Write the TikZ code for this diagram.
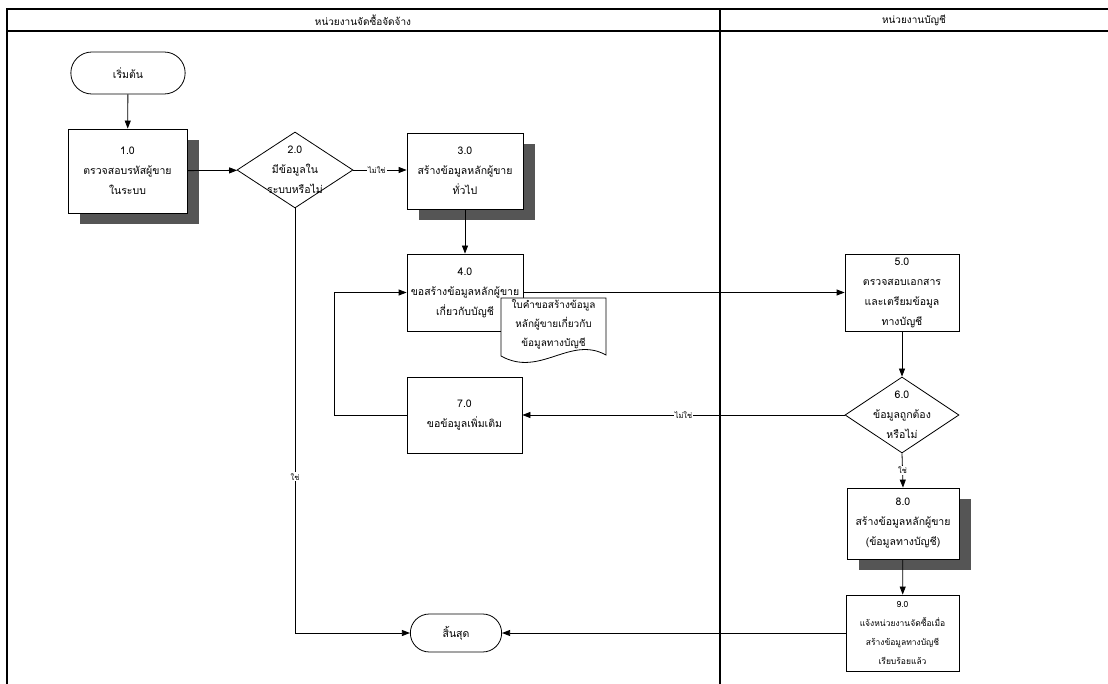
\documentclass[tikz,border=0pt]{standalone}
\usepackage{fontspec}
\newfontfamily\thai[Script=Thai]{Loma}
\usetikzlibrary{arrows.meta,shapes.geometric,shapes.misc,shadows}
\definecolor{shade}{RGB}{85,85,85}
\tikzset{
  x=1pt, y=-1pt,
  txt/.style={font=\thai\fontsize{10.5}{20}\selectfont, align=center},
  proc/.style={draw, fill=white, line width=0.8pt, inner sep=0pt, txt},
  shd/.style={drop shadow={shadow xshift=12pt, shadow yshift=-11pt, fill=shade, opacity=1}},
  dec/.style={diamond, draw, fill=white, line width=0.8pt, inner sep=0pt, minimum width=116pt, minimum height=76pt},
  term/.style={rounded rectangle, draw, fill=white, line width=0.8pt, txt},
  arr/.style={line width=0.8pt, -{Triangle[length=8pt,width=6pt]}},
  conn/.style={line width=0.8pt},
  lbl/.style={font=\thai\fontsize{7.5}{8}\selectfont, fill=white, inner sep=1pt},
  frame/.style={line width=1.4pt},
}
\begin{document}
\begin{tikzpicture}
\useasboundingbox (0,0) rectangle (1108,684);
% swimlane frame
\draw[frame] (7,684) -- (7,9) -- (1108,9);
\draw[frame] (7,31) -- (1108,31);
\draw[frame] (720,9) -- (720,684);
\node[txt, font=\thai\fontsize{10}{12}\selectfont] (lane1) at (363,20) {หน่วยงานจัดซื้อจัดจ้าง};
\node[txt, font=\thai\fontsize{10}{12}\selectfont] (lane2) at (914,20) {หน่วยงานบัญชี};

% nodes
\node[term, minimum width=121pt, minimum height=42pt] (start) at (128,73) {เริ่มต้น};
\node[proc, shd, minimum width=119pt, minimum height=84pt] (n1) at (127.5,171) {1.0\\ตรวจสอบรหัสผู้ขาย\\ในระบบ};
\node[dec, label={[txt]center:{2.0\\มีข้อมูลใน\\ระบบหรือไม่}}] (n2) at (295,170) {};
\node[proc, shd, minimum width=116pt, minimum height=76pt] (n3) at (465,171) {3.0\\สร้างข้อมูลหลักผู้ขาย\\ทั่วไป};
\node[proc, minimum width=116pt, minimum height=77pt] (n4) at (465,292.5) {4.0\\ขอสร้างข้อมูลหลักผู้ขาย\\เกี่ยวกับบัญชี};
\filldraw[fill=white, line width=0.8pt] (501,298) -- (606,298) -- (606,355)
   .. controls (570,335) and (540,378) .. (501,356) -- cycle;
\node[txt, font=\thai\fontsize{10}{19}\selectfont] (doc) at (553.5,324) {ใบคำขอสร้างข้อมูล\\หลักผู้ขายเกี่ยวกับ\\ข้อมูลทางบัญชี};
\node[proc, minimum width=114pt, minimum height=77pt] (n5) at (902,292.5) {5.0\\ตรวจสอบเอกสาร\\และเตรียมข้อมูล\\ทางบัญชี};
\node[dec, minimum width=114pt, label={[txt]center:{6.0\\ข้อมูลถูกต้อง\\หรือไม่}}] (n6) at (902,415) {};
\node[proc, minimum width=115pt, minimum height=76pt] (n7) at (464.5,415) {7.0\\ขอข้อมูลเพิ่มเติม};
\node[proc, shd, minimum width=112pt, minimum height=71pt] (n8) at (903,523.5) {8.0\\สร้างข้อมูลหลักผู้ขาย\\(ข้อมูลทางบัญชี)};
\node[proc, minimum width=113pt, minimum height=76pt, font=\thai\fontsize{8.5}{19}\selectfont] (n9) at (902.5,633) {9.0\\แจ้งหน่วยงานจัดซื้อเมื่อ\\สร้างข้อมูลทางบัญชี\\เรียบร้อยแล้ว};
\node[term, minimum width=98pt, minimum height=38pt] (end) at (456,633) {สิ้นสุด};

% connectors
\coordinate (loop) at (334,415);
\draw[arr] (start) -- (n1);
\draw[arr] (n1) -- (n2);
\draw[arr] (n2.east) -- node[lbl, pos=0.44] {ไม่ใช่} (n3.west |- n2.east);
\draw[arr] (n3) -- (n4);
\draw[arr] (n4.east) -- (n5.west);
\draw[arr] (n5) -- (n6);
\draw[arr] (n6.west) -- node[lbl, pos=0.5] {ไม่ใช่} (n7.east);
\draw[arr] (n7.west) -- (loop) |- (n4.west);
\draw[arr] (n2.south) |- node[lbl, pos=0.316] {ใช่} (end.west);
\draw[arr] (n6.south) -- node[lbl, pos=0.49] {ใช่} (n8.north);
\draw[arr] (n8) -- (n9);
\draw[arr] (n9.west) -- (end.east);
\end{tikzpicture}
\end{document}
